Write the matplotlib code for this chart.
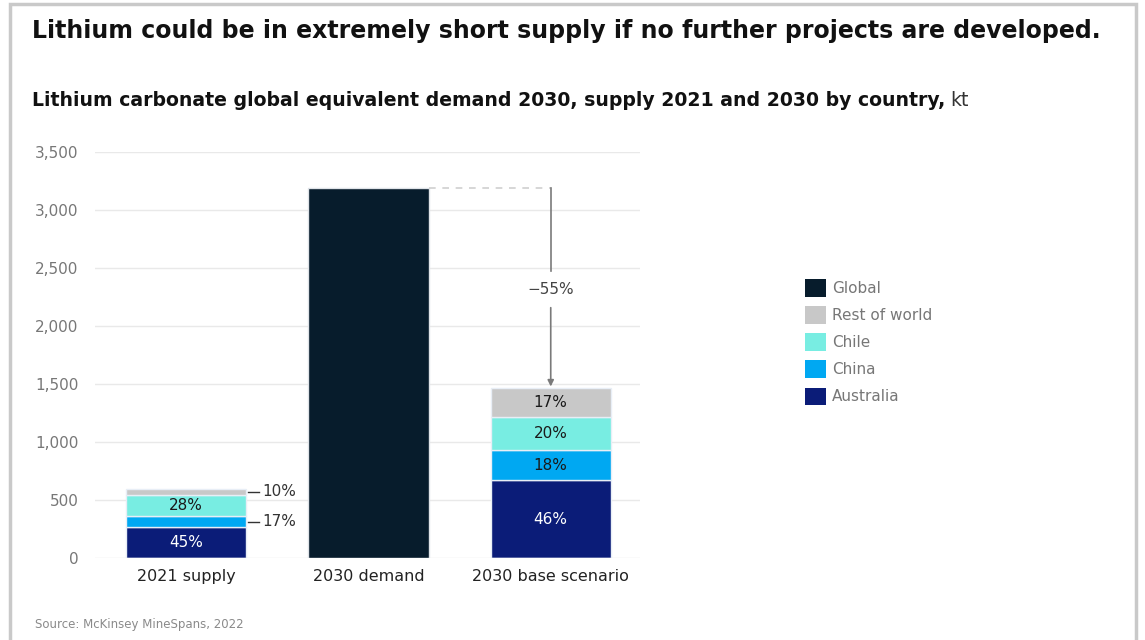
import matplotlib.pyplot as plt
from matplotlib.patches import Rectangle, Patch

# lithium carbonate equivalent, kt
categories = ['2021 supply', '2030 demand', '2030 base scenario']
australia = [265, 0, 670]
china = [100, 0, 260]
chile = [175, 0, 290]
rest_of_world = [60, 0, 245]
global_demand = [0, 3195, 0]

australia_pct = ['45%', '', '46%']
china_pct = ['17%', '', '18%']
chile_pct = ['28%', '', '20%']
row_pct = ['10%', '', '17%']
gap_label = '\u221255%'

c_global = '#071c2c'
c_row = '#c8c8c8'
c_chile = '#78ede2'
c_china = '#00a8f2'
c_aus = '#0b1c78'
grey = '#7a7a7a'

fig = plt.figure(figsize=(11.45, 6.4), dpi=100)
fig.patches.append(Rectangle((0.009, -0.01), 0.983, 1.003, transform=fig.transFigure,
                             fill=False, edgecolor='#c9c9c9', linewidth=2.5))

ax = fig.add_axes([0.083, 0.128, 0.476, 0.634])
x = range(len(categories))
w = 0.66

bottom = [0] * 3
stacks = [(australia, c_aus), (china, c_china), (chile, c_chile), (rest_of_world, c_row)]
for vals, col in stacks:
    ax.bar(x, vals, w, bottom=bottom, color=col, edgecolor='#e8eef6', linewidth=1, zorder=3)
    bottom = [b + v for b, v in zip(bottom, vals)]
ax.bar(x, global_demand, w, color=c_global, edgecolor='#dfe3e8', linewidth=1, zorder=3)

# labels inside the stacks
lab_font = dict(ha='center', va='center', fontsize=11, zorder=4)
for i in (0, 2):
    ax.text(i, australia[i] / 2, australia_pct[i], color='white', **lab_font)
    base = australia[i] + china[i]
    if i == 2:
        ax.text(i, australia[i] + china[i] / 2, china_pct[i], color='#1a1a1a', **lab_font)
    ax.text(i, base + chile[i] / 2, chile_pct[i], color='#1a1a1a', **lab_font)
    if i == 2:
        ax.text(i, base + chile[i] + rest_of_world[i] / 2, row_pct[i], color='#1a1a1a', **lab_font)

# callouts for the thin 2021 segments
y_row = australia[0] + china[0] + chile[0] + rest_of_world[0] / 2
y_china = australia[0] + china[0] / 2
for yy, txt in ((y_row, row_pct[0]), (y_china, china_pct[0])):
    ax.plot([w / 2 + 0.01, w / 2 + 0.07], [yy, yy], color='#333333', lw=1, zorder=4,
            clip_on=False)
    ax.text(w / 2 + 0.09, yy, txt, ha='left', va='center', fontsize=11, color='#333333')

# gap between demand and base supply
top_d = global_demand[1]
top_b = bottom[2]
ax.plot([1 + w / 2, 2], [top_d, top_d], color='#cfcfcf', lw=1.2, ls=(0, (4, 4)), zorder=4)
mid = 2320
ax.plot([2, 2], [top_d, mid + 160], color=grey, lw=1.2, zorder=4)
ax.annotate('', xy=(2, top_b + 15), xytext=(2, mid - 160),
            arrowprops=dict(arrowstyle='-|>', color=grey, lw=1.2, mutation_scale=9,
                            shrinkA=0, shrinkB=0), zorder=4)
ax.text(2, mid, gap_label, ha='center', va='center', fontsize=11, color='#444444')

ax.set_xlim(-0.5, 2.49)
ax.set_ylim(0, 3500)
ax.set_yticks(range(0, 3501, 500))
ax.set_yticklabels(['0', '500', '1,000', '1,500', '2,000', '2,500', '3,000', '3,500'])
ax.set_xticks(list(x))
ax.set_xticklabels(categories)
ax.grid(axis='y', color='#e9e9e9', lw=1, zorder=0)
for s in ax.spines.values():
    s.set_visible(False)
ax.tick_params(axis='y', length=0, labelsize=11, labelcolor='#777777', pad=12)
ax.tick_params(axis='x', length=0, labelsize=11.5, labelcolor='#222222', pad=8)

handles = [Patch(facecolor=c, edgecolor='none') for c in (c_global, c_row, c_chile, c_china, c_aus)]
names = ['Global', 'Rest of world', 'Chile', 'China', 'Australia']
leg = fig.legend(handles, names, loc='upper left', bbox_to_anchor=(0.703, 0.564), frameon=False,
                 fontsize=11, handlelength=1.4, handleheight=1.4, labelspacing=0.62,
                 handletextpad=0.35, borderaxespad=0, borderpad=0)
for t in leg.get_texts():
    t.set_color('#777777')

fig.text(0.028, 0.952, 'Lithium could be in extremely short supply if no further projects are developed.',
         fontsize=17, fontweight='bold', color='#111111', va='center')
sub = fig.text(0.028, 0.843, 'Lithium carbonate global equivalent demand 2030, supply 2021 and 2030 by country,',
               fontsize=13.6, fontweight='bold', color='#111111', va='center')
fig.canvas.draw()
bb = sub.get_window_extent().transformed(fig.transFigure.inverted())
fig.text(bb.x1 + 0.004, 0.843, 'kt', fontsize=13.6, color='#333333', va='center')
fig.text(0.031, 0.024, 'Source: McKinsey MineSpans, 2022', fontsize=8.5, color='#8a8a8a', va='center')

fig.savefig('out.png', dpi=100)
